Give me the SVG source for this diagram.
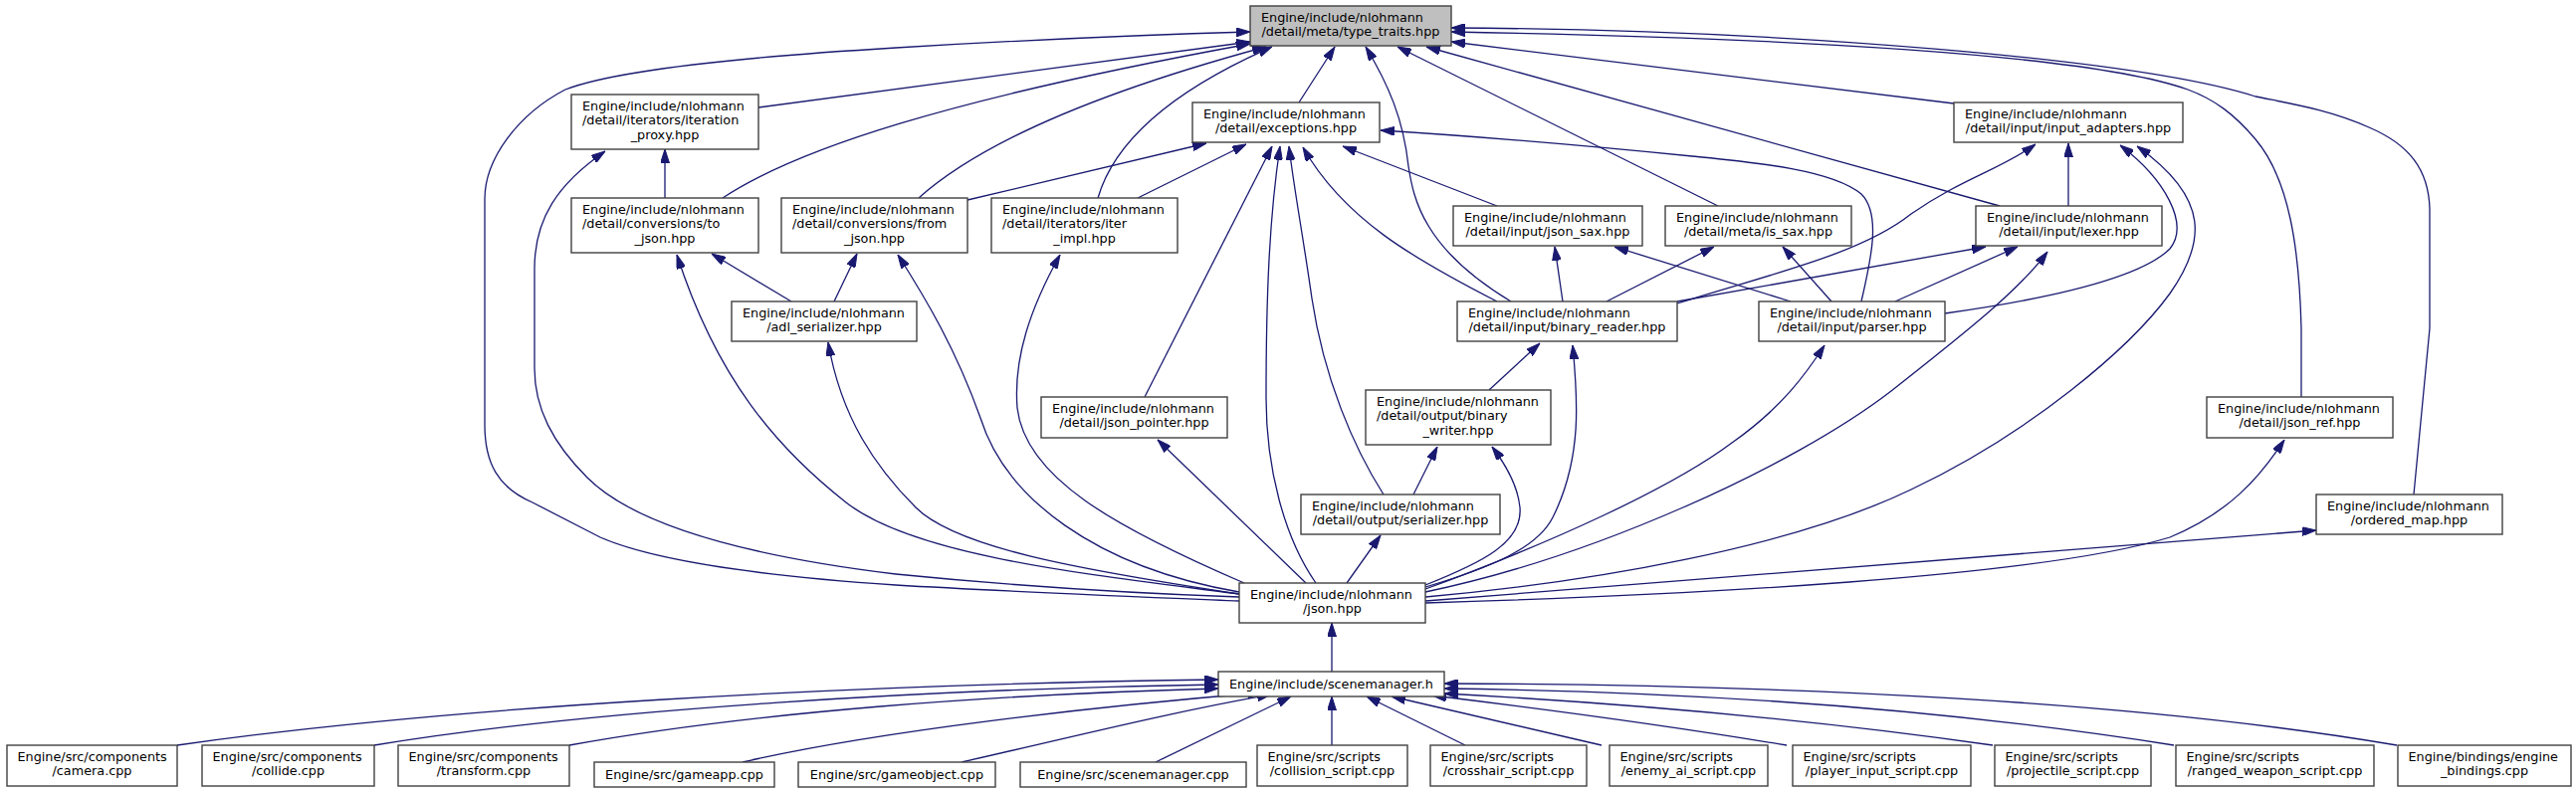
<svg xmlns="http://www.w3.org/2000/svg" width="2588" height="796" viewBox="0 0 2588 796">
<style>
.n rect{fill:#ffffff;stroke:#404040;stroke-width:1.4}
.cur rect{fill:#bfbfbf}
text{font-family:"DejaVu Sans","Liberation Sans",sans-serif;font-size:12.8px;fill:#000}
.m{text-anchor:middle}
.e path{fill:none;stroke:#191970;stroke-width:1.3;marker-end:url(#ah)}
</style>
<defs>
<marker id="ah" viewBox="0 0 14 9" refX="14" refY="4.5" markerWidth="14" markerHeight="9" markerUnits="userSpaceOnUse" orient="auto"><path d="M0,0 L14,4.5 L0,9 z" fill="#191970" stroke="#191970" stroke-width="1"/></marker>
</defs>
<rect width="2588" height="796" fill="#ffffff"/>
<g class="e" id="edges">
<!-- to type_traits -->
<path d="M1245,604 C1100,598 1000,594 900,588 C780,580 660,565 603,540 L535,505 C500,490 487,465 487,427 L487,200 C487,160 520,115 568,90 C620,70 750,57 900,48 C1000,42 1150,35 1256,32"/>
<path d="M762,108 L1256,42"/>
<path d="M726,199 C800,150 950,100 1256,44"/>
<path d="M923,199 C1000,130 1150,80 1272,47"/>
<path d="M1103,199 C1120,140 1180,90 1278,47"/>
<path d="M1305,103 L1341,47"/>
<path d="M1518,303 C1430,250 1420,200 1415,167 C1410,120 1395,85 1372,47"/>
<path d="M1726,207 L1404,47"/>
<path d="M2009,207 L1433,47"/>
<path d="M1963,104 L1458,42"/>
<path d="M2312,399 L2312,330 C2310,250 2300,180 2266,140 C2245,115 2225,100 2198,90 C2100,55 1800,38 1458,32"/>
<path d="M2425,497 L2441,330 L2441,210 C2440,170 2420,145 2380,128 C2340,110 2300,104 2266,97 C2150,60 1800,30 1458,28"/>
<!-- to exceptions -->
<path d="M972,201 L1212,144"/>
<path d="M1143,199 L1252,145"/>
<path d="M1150,399 L1278,147"/>
<path d="M1322,586 C1290,540 1272,470 1272,400 C1272,300 1275,220 1286,147"/>
<path d="M1390,497 C1360,450 1330,380 1318,300 C1308,230 1300,190 1295,147"/>
<path d="M1504,303 C1420,260 1350,220 1309,148"/>
<path d="M1504,207 L1349,147"/>
<path d="M1870,303 C1880,260 1890,215 1870,195 C1840,170 1760,163 1700,157 C1600,147 1500,138 1387,131"/>
<!-- to iteration_proxy -->
<path d="M668,199 L668,150"/>
<path d="M1245,600 C1100,595 980,585 900,577 C760,560 640,530 590,480 C555,445 537,410 537,370 L537,270 C537,220 560,185 608,152"/>
<!-- to to_json -->
<path d="M795,303 L715,255"/>
<path d="M1245,597 C1100,578 920,560 850,505 C780,450 720,380 680,256"/>
<!-- to from_json -->
<path d="M838,303 L861,255"/>
<path d="M1245,595 C1100,570 1010,500 985,420 C960,350 930,300 902,256"/>
<!-- to adl_serializer -->
<path d="M1245,597 C1080,572 960,550 920,510 C880,470 845,420 832,344"/>
<!-- to iter_impl -->
<path d="M1250,586 C1120,530 1030,480 1022,410 C1018,360 1035,310 1065,256"/>
<!-- to json_sax -->
<path d="M1570,303 L1562,248"/>
<path d="M1799,303 L1622,248"/>
<!-- to is_sax -->
<path d="M1614,303 L1722,248"/>
<path d="M1840,303 L1791,248"/>
<!-- to input_adapters -->
<path d="M1685,305 C1780,275 1870,255 1920,215 C1970,180 2010,170 2045,145"/>
<path d="M2078,207 L2078,144"/>
<path d="M1954,315 C2060,300 2150,280 2180,250 C2200,225 2175,180 2130,146"/>
<path d="M1432,600 C1600,585 1800,550 1920,492 C2040,435 2140,350 2180,295 C2215,245 2222,200 2147,147"/>
<!-- to lexer -->
<path d="M1685,303 L1995,248"/>
<path d="M1904,303 L2027,248"/>
<path d="M1432,595 C1600,560 1800,470 1900,393 C1980,330 2030,290 2057,253"/>
<!-- to binary_reader -->
<path d="M1496,392 L1547,345"/>
<path d="M1432,590 C1500,570 1545,550 1560,520 C1590,460 1585,400 1580,347"/>
<!-- to parser -->
<path d="M1432,592 C1560,545 1680,490 1740,445 C1790,410 1815,375 1833,347"/>
<!-- to json_pointer -->
<path d="M1312,586 L1163,442"/>
<!-- to binary_writer -->
<path d="M1420,497 L1444,449"/>
<path d="M1432,588 C1490,565 1530,545 1527,510 C1525,490 1515,470 1499,449"/>
<!-- to serializer -->
<path d="M1353,586 L1387,538"/>
<!-- to json_ref -->
<path d="M1432,606 C1700,598 2050,580 2180,540 C2240,515 2270,480 2295,442"/>
<!-- to ordered_map -->
<path d="M1432,604 L2327,533"/>
<!-- to json -->
<path d="M1338,675 L1338,626"/>
<!-- to scenemanager.h -->
<path d="M178,749 C450,710 850,688 1224,683"/>
<path d="M376,749 C600,712 950,692 1224,688"/>
<path d="M572,749 C760,715 1000,698 1224,692"/>
<path d="M746,766 C880,735 1100,710 1268,696"/>
<path d="M966,766 C1080,740 1180,715 1277,698"/>
<path d="M1161,766 L1297,700"/>
<path d="M1338,749 L1338,700"/>
<path d="M1472,749 L1373,700"/>
<path d="M1609,749 L1398,700"/>
<path d="M1795,749 C1650,725 1530,710 1439,699"/>
<path d="M2002,749 C1800,720 1600,705 1451,697"/>
<path d="M2184,749 C1950,712 1700,695 1451,692"/>
<path d="M2408,749 C2150,705 1800,688 1451,687"/>
</g>
<g class="n cur" id="type_traits"><rect x="1256" y="6" width="202" height="40"/><text x="1267" y="21.8">Engine/include/nlohmann</text><text class="m" x="1357" y="36.2">/detail/meta/type_traits.hpp</text></g>
<g class="n" id="iteration_proxy"><rect x="574" y="95" width="188" height="55"/><text x="585" y="110.8">Engine/include/nlohmann</text><text x="585" y="125.3">/detail/iterators/iteration</text><text class="m" x="668" y="139.8">_proxy.hpp</text></g>
<g class="n" id="exceptions"><rect x="1198" y="103" width="188" height="40"/><text x="1209" y="118.8">Engine/include/nlohmann</text><text class="m" x="1292" y="133.2">/detail/exceptions.hpp</text></g>
<g class="n" id="input_adapters"><rect x="1963" y="103" width="230" height="40"/><text x="1974" y="118.8">Engine/include/nlohmann</text><text class="m" x="2078" y="133.2">/detail/input/input_adapters.hpp</text></g>
<g class="n" id="to_json"><rect x="574" y="199" width="188" height="55"/><text x="585" y="214.8">Engine/include/nlohmann</text><text x="585" y="229.3">/detail/conversions/to</text><text class="m" x="668" y="243.8">_json.hpp</text></g>
<g class="n" id="from_json"><rect x="785" y="199" width="187" height="55"/><text x="796" y="214.8">Engine/include/nlohmann</text><text x="796" y="229.3">/detail/conversions/from</text><text class="m" x="878.5" y="243.8">_json.hpp</text></g>
<g class="n" id="iter_impl"><rect x="996" y="199" width="187" height="55"/><text x="1007" y="214.8">Engine/include/nlohmann</text><text x="1007" y="229.3">/detail/iterators/iter</text><text class="m" x="1089.5" y="243.8">_impl.hpp</text></g>
<g class="n" id="json_sax"><rect x="1460" y="207" width="190" height="40"/><text x="1471" y="222.8">Engine/include/nlohmann</text><text class="m" x="1555" y="237.2">/detail/input/json_sax.hpp</text></g>
<g class="n" id="is_sax"><rect x="1673" y="207" width="187" height="40"/><text x="1684" y="222.8">Engine/include/nlohmann</text><text class="m" x="1766.5" y="237.2">/detail/meta/is_sax.hpp</text></g>
<g class="n" id="lexer"><rect x="1985" y="207" width="187" height="40"/><text x="1996" y="222.8">Engine/include/nlohmann</text><text class="m" x="2078.5" y="237.2">/detail/input/lexer.hpp</text></g>
<g class="n" id="adl_serializer"><rect x="735" y="303" width="186" height="40"/><text x="746" y="318.8">Engine/include/nlohmann</text><text class="m" x="828" y="333.2">/adl_serializer.hpp</text></g>
<g class="n" id="binary_reader"><rect x="1464" y="303" width="221" height="40"/><text x="1475" y="318.8">Engine/include/nlohmann</text><text class="m" x="1574.5" y="333.2">/detail/input/binary_reader.hpp</text></g>
<g class="n" id="parser"><rect x="1767" y="303" width="187" height="40"/><text x="1778" y="318.8">Engine/include/nlohmann</text><text class="m" x="1860.5" y="333.2">/detail/input/parser.hpp</text></g>
<g class="n" id="json_pointer"><rect x="1046" y="399" width="187" height="41"/><text x="1057" y="415">Engine/include/nlohmann</text><text class="m" x="1139.5" y="429.4">/detail/json_pointer.hpp</text></g>
<g class="n" id="binary_writer"><rect x="1372" y="392" width="186" height="55"/><text x="1383" y="407.8">Engine/include/nlohmann</text><text x="1383" y="422.3">/detail/output/binary</text><text class="m" x="1465" y="436.8">_writer.hpp</text></g>
<g class="n" id="json_ref"><rect x="2217" y="399" width="187" height="41"/><text x="2228" y="415">Engine/include/nlohmann</text><text class="m" x="2310.5" y="429.4">/detail/json_ref.hpp</text></g>
<g class="n" id="serializer"><rect x="1307" y="497" width="200" height="40"/><text x="1318" y="512.8">Engine/include/nlohmann</text><text class="m" x="1407" y="527.2">/detail/output/serializer.hpp</text></g>
<g class="n" id="ordered_map"><rect x="2327" y="497" width="187" height="40"/><text x="2338" y="512.8">Engine/include/nlohmann</text><text class="m" x="2420.5" y="527.2">/ordered_map.hpp</text></g>
<g class="n" id="json"><rect x="1245" y="586" width="187" height="40"/><text x="1256" y="601.8">Engine/include/nlohmann</text><text class="m" x="1338.5" y="616.2">/json.hpp</text></g>
<g class="n" id="scenemanager_h"><rect x="1224" y="675" width="227" height="25"/><text class="m" x="1337.5" y="692.3">Engine/include/scenemanager.h</text></g>
<g class="n" id="camera"><rect x="7" y="749" width="171" height="41"/><text x="17.5" y="765">Engine/src/components</text><text class="m" x="92.5" y="779.4">/camera.cpp</text></g>
<g class="n" id="collide"><rect x="203" y="749" width="173" height="41"/><text x="213.5" y="765">Engine/src/components</text><text class="m" x="289.5" y="779.4">/collide.cpp</text></g>
<g class="n" id="transform"><rect x="400" y="749" width="172" height="41"/><text x="410.5" y="765">Engine/src/components</text><text class="m" x="486" y="779.4">/transform.cpp</text></g>
<g class="n" id="gameapp"><rect x="597" y="766" width="181" height="25"/><text class="m" x="687.5" y="783.3">Engine/src/gameapp.cpp</text></g>
<g class="n" id="gameobject"><rect x="802" y="766" width="198" height="25"/><text class="m" x="901" y="783.3">Engine/src/gameobject.cpp</text></g>
<g class="n" id="scenemanager_cpp"><rect x="1025" y="766" width="227" height="25"/><text class="m" x="1138.5" y="783.3">Engine/src/scenemanager.cpp</text></g>
<g class="n" id="collision_script"><rect x="1263" y="749" width="151" height="41"/><text x="1273.5" y="765">Engine/src/scripts</text><text class="m" x="1338.5" y="779.4">/collision_script.cpp</text></g>
<g class="n" id="crosshair_script"><rect x="1437" y="749" width="157" height="41"/><text x="1447.5" y="765">Engine/src/scripts</text><text class="m" x="1515.5" y="779.4">/crosshair_script.cpp</text></g>
<g class="n" id="enemy_ai_script"><rect x="1617" y="749" width="159" height="41"/><text x="1627.5" y="765">Engine/src/scripts</text><text class="m" x="1696.5" y="779.4">/enemy_ai_script.cpp</text></g>
<g class="n" id="player_input_script"><rect x="1801" y="749" width="179" height="41"/><text x="1811.5" y="765">Engine/src/scripts</text><text class="m" x="1890.5" y="779.4">/player_input_script.cpp</text></g>
<g class="n" id="projectile_script"><rect x="2004" y="749" width="157" height="41"/><text x="2014.5" y="765">Engine/src/scripts</text><text class="m" x="2082.5" y="779.4">/projectile_script.cpp</text></g>
<g class="n" id="ranged_weapon_script"><rect x="2186" y="749" width="199" height="41"/><text x="2196.5" y="765">Engine/src/scripts</text><text class="m" x="2285.5" y="779.4">/ranged_weapon_script.cpp</text></g>
<g class="n" id="engine_bindings"><rect x="2409" y="749" width="174" height="41"/><text x="2419.5" y="765">Engine/bindings/engine</text><text class="m" x="2496" y="779.4">_bindings.cpp</text></g>
</svg>
